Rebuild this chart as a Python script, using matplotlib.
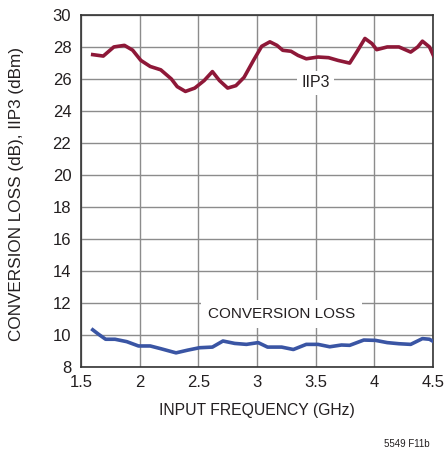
import matplotlib.pyplot as plt
from matplotlib import font_manager

# IIP3 (dBm) vs input frequency (GHz)
iip3_freq = [1.60, 1.69, 1.78, 1.87, 1.94, 2.01, 2.09, 2.18, 2.27, 2.32, 2.39, 2.47,
             2.55, 2.62, 2.68, 2.75, 2.82, 2.89, 2.97, 3.04, 3.11, 3.17, 3.22, 3.29,
             3.35, 3.42, 3.52, 3.61, 3.69, 3.79, 3.85, 3.92, 3.98, 4.02, 4.11, 4.21,
             4.31, 4.37, 4.41, 4.47, 4.52]
iip3_db = [27.52, 27.43, 28.00, 28.10, 27.80, 27.16, 26.78, 26.57, 26.00, 25.52, 25.22, 25.43,
           25.90, 26.46, 25.90, 25.43, 25.58, 26.10, 27.16, 28.04, 28.32, 28.10, 27.79, 27.73,
           27.47, 27.26, 27.37, 27.33, 27.16, 26.99, 27.68, 28.53, 28.21, 27.83, 28.00, 28.00,
           27.68, 28.00, 28.36, 28.00, 27.20]

# conversion loss (dB) vs input frequency (GHz)
cl_freq = [1.60, 1.65, 1.71, 1.79, 1.89, 1.99, 2.09, 2.18, 2.31, 2.41, 2.51, 2.62,
           2.71, 2.81, 2.91, 3.01, 3.09, 3.21, 3.31, 3.42, 3.52, 3.62, 3.72, 3.79,
           3.91, 4.01, 4.11, 4.21, 4.31, 4.41, 4.47, 4.52]
cl_db = [10.32, 10.04, 9.73, 9.73, 9.58, 9.31, 9.31, 9.14, 8.88, 9.05, 9.20, 9.24,
         9.62, 9.47, 9.41, 9.52, 9.24, 9.24, 9.09, 9.41, 9.41, 9.26, 9.37, 9.35,
         9.68, 9.66, 9.52, 9.45, 9.41, 9.77, 9.73, 9.52]

x_ticks = [1.5, 2, 2.5, 3, 3.5, 4, 4.5]
x_tick_labels = ['1.5', '2', '2.5', '3', '3.5', '4', '4.5']
y_ticks = list(range(8, 31, 2))

names = {f.name for f in font_manager.fontManager.ttflist}
if 'Liberation Sans Narrow' in names:
    plt.rcParams['font.family'] = ['Liberation Sans Narrow', 'DejaVu Sans']
else:
    plt.rcParams['font.family'] = ['Liberation Sans', 'DejaVu Sans']

TEXT = '#231f20'
RED = '#8e1838'
BLUE = '#3a55a4'

fig = plt.figure(figsize=(4.45, 4.53), dpi=100)
ax = fig.add_axes([0.182, 0.19, 0.791, 0.777])

ax.plot(iip3_freq, iip3_db, color=RED, linewidth=2.6, solid_joinstyle='round', zorder=3)
ax.plot(cl_freq, cl_db, color=BLUE, linewidth=2.6, solid_joinstyle='round', zorder=3)

ax.set_xlim(1.5, 4.5)
ax.set_ylim(8, 30)
ax.set_xticks(x_ticks)
ax.set_xticklabels(x_tick_labels)
ax.set_yticks(y_ticks)
ax.grid(True, color='#8c8c8c', linewidth=1.0, zorder=0)
ax.set_axisbelow(True)
ax.tick_params(length=0, labelsize=12, colors=TEXT)
ax.tick_params(axis='x', pad=6)
ax.tick_params(axis='y', pad=7)
for s in ax.spines.values():
    s.set_color('#333333')
    s.set_linewidth(1.2)

ax.set_xlabel('INPUT FREQUENCY (GHz)', fontsize=11.3, color=TEXT, labelpad=9)
ax.set_ylabel('CONVERSION LOSS (dB), IIP3 (dBm)', fontsize=12.3, color=TEXT)
ax.yaxis.set_label_coords(-0.162, 0.49)

ax.text(3.5, 25.75, 'IIP3', fontsize=11.5, color=TEXT, ha='center', va='center',
        bbox=dict(facecolor='white', edgecolor='none', pad=3), zorder=2)
ax.text(3.21, 11.3, 'CONVERSION LOSS', fontsize=11, color=TEXT, ha='center', va='center',
        bbox=dict(facecolor='white', edgecolor='none', pad=5), zorder=2)

fig.text(0.966, 0.009, '5549 F11b', fontsize=7, color=TEXT, ha='right', va='bottom')

fig.savefig('out.png', dpi=100)
